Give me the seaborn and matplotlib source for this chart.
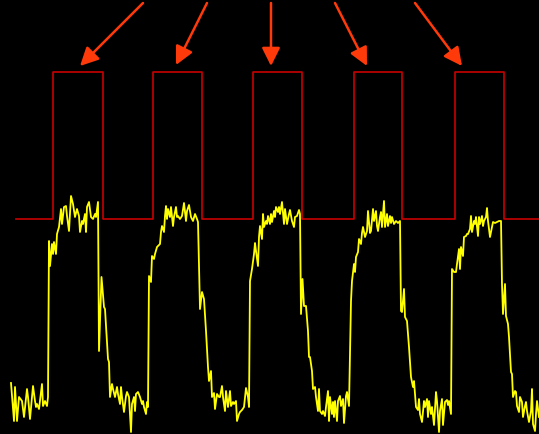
import matplotlib
matplotlib.use("Agg")
import matplotlib.pyplot as plt
import seaborn as sns
import pandas as pd

# ---- data: response trace as (time, level) pairs, level in screen units (down = larger) ----
response = [
    (11, 384), (14, 422), (15, 388), (17, 422), (19, 398), (22, 402), (24, 418), (27, 390),
    (28, 398), (30, 420), (33, 387), (35, 402), (36, 408), (37, 405), (39, 410), (42, 385),
    (43, 407), (45, 402), (47, 407), (48, 398),
    (49, 242), (50, 267), (52, 245), (53, 255), (54, 243), (56, 255), (57, 235), (59, 228),
    (61, 210), (62, 225), (64, 208), (66, 207), (67, 217), (69, 232), (71, 197), (73, 205),
    (75, 218), (77, 210), (79, 217), (80, 233), (82, 222), (83, 225), (85, 215), (86, 233),
    (87, 208), (89, 203), (91, 218), (93, 220), (95, 215), (96, 218), (98, 203),
    (99, 352), (101.5, 278), (104, 308), (105, 310), (108, 360), (109, 363),
    (110, 398), (112, 385), (113, 390), (115, 398), (117, 388), (118, 395), (120, 405),
    (121, 388), (122, 398), (124, 413), (126, 397), (127, 393), (129, 398), (131, 433),
    (132, 405), (134, 398), (135, 412), (136, 395), (138, 393), (140, 398), (142, 405),
    (143, 402), (144, 408), (146, 415), (147, 403), (148, 408),
    (149, 277), (151, 283), (152, 257), (154, 260), (155, 255), (157, 248), (158, 247),
    (160, 245), (161, 233), (162, 227), (164, 233), (165, 217), (166, 207), (167, 220),
    (168, 210), (170, 218), (171, 208), (173, 227), (174, 218), (176, 208), (177, 218),
    (178, 217), (180, 220), (182, 217), (184, 204), (186, 222), (187, 212), (189, 206),
    (191, 218), (193, 222), (195, 215), (197, 220), (198, 223),
    (200, 310), (202, 293), (204, 300), (206, 332), (208, 368), (209, 382), (211, 372),
    (212, 398), (214, 394), (215, 410), (217, 395), (219, 398), (220, 398), (222, 387),
    (223, 398), (225, 412), (226, 392), (228, 408), (230, 392), (231, 407), (233, 403),
    (234, 405), (236, 402), (237, 422), (239, 415), (240, 413), (242, 411), (244, 408),
    (246, 389), (248, 398), (249, 408),
    (250, 282), (252, 270), (254, 255), (255, 244), (256, 252), (258, 267), (259, 238),
    (260, 227), (262, 240), (263, 215), (264, 228), (266, 222), (267, 225), (268, 217),
    (270, 225), (271, 215), (272, 223), (274, 212), (275, 218), (276, 208), (278, 213),
    (279, 208), (280, 215), (282, 203), (284, 225), (285, 210), (287, 225), (289, 215),
    (290, 211), (292, 222), (294, 228), (295, 218), (297, 217), (299, 211), (300, 215),
    (301, 315), (302.5, 280), (304, 307), (306, 307), (308, 332), (309, 358), (310, 358),
    (312, 372), (313, 390), (315, 388), (316, 398), (318, 412), (319, 390), (320, 412),
    (322, 415), (323, 412), (325, 417), (326, 408), (328, 392), (329, 422), (330, 398),
    (332, 415), (333, 403), (334, 418), (335, 402), (337, 422), (338, 402), (340, 397),
    (341, 407), (343, 400), (344, 424), (346, 397), (347, 393), (349, 407),
    (351, 302), (352, 282), (354, 265), (355, 273), (356, 258), (358, 253), (359, 240),
    (361, 245), (362, 234), (363, 228), (365, 238), (367, 232), (368, 212), (370, 234),
    (371, 232), (373, 210), (374, 222), (376, 212), (377, 227), (378, 232), (380, 218),
    (381, 213), (382, 228), (384, 202), (385, 228), (387, 215), (388, 227), (390, 217),
    (391, 224), (392, 218), (394, 225), (396, 222), (398, 224), (400, 222),
    (401, 312), (402, 313), (404, 290), (405, 318), (407, 322), (409, 348), (411, 378),
    (413, 388), (414, 382), (416, 408), (418, 411), (419, 400), (420, 415), (422, 423),
    (424, 402), (425, 408), (427, 400), (428, 418), (429, 402), (431, 415), (432, 408),
    (434, 426), (436, 393), (437, 402), (439, 433), (440, 412), (442, 400), (443, 426),
    (445, 403), (447, 401), (448, 406), (449, 402), (451, 415),
    (452, 270), (454, 273), (456, 273), (457, 265), (459, 250), (460, 270), (461, 248),
    (463, 257), (464, 238), (466, 237), (467, 235), (468, 235), (470, 230), (471, 217),
    (472, 233), (474, 222), (475, 225), (476, 218), (478, 237), (479, 218), (480, 225),
    (482, 217), (483, 227), (484, 222), (486, 218), (487, 209), (488, 222), (490, 238),
    (492, 228), (493, 223), (495, 224), (497, 223), (499, 222), (501, 222),
    (502, 285), (503, 315), (505, 285), (506, 317), (508, 325), (509, 338), (511, 373),
    (512, 375), (513, 398), (515, 392), (516, 393), (517, 407), (519, 413), (520, 398),
    (522, 403), (523, 418), (525, 407), (526, 403), (527, 412), (529, 423), (531, 412),
    (532, 390), (533, 425), (535, 432), (536, 415), (537, 402), (539, 418),
]
resp_t = [p[0] for p in response]
resp_v = [p[1] for p in response]

# stimulus (square wave): switching times and levels
pulse_on = [53, 153, 253, 354, 455]
pulse_off = [102.5, 202, 302, 402, 504]
stim_start, stim_end = 16, 539
stim_low, stim_high = 220, 73

# annotation arrows: tail -> head
arrow_tail_t = [143, 207, 271, 335, 415]
arrow_head_t = [80, 176, 271, 367, 462]
arrow_tail_v = [4, 4, 4, 4, 4]
arrow_head_v = [67, 66, 67, 67, 67]

# ---- build square wave from switching times ----
st, sv = [stim_start], [stim_low]
for on, off in zip(pulse_on, pulse_off):
    st += [on, on, off, off]
    sv += [stim_low, stim_high, stim_high, stim_low]
st.append(stim_end)
sv.append(stim_low)
stim = pd.DataFrame({"t": st, "v": sv})
resp = pd.DataFrame({"t": resp_t, "v": resp_v})

fig = plt.figure(figsize=(5.39, 4.35), dpi=100, facecolor="black")
ax = fig.add_axes([0, 0, 1, 1])
ax.set_facecolor("black")

sns.lineplot(data=stim, x="t", y="v", sort=False, estimator=None, ax=ax,
             color="#C80000", linewidth=1.2)
sns.lineplot(data=resp, x="t", y="v", sort=False, estimator=None, ax=ax,
             color="#FFFF00", linewidth=1.3)

for tt, tv, ht, hv in zip(arrow_tail_t, arrow_tail_v, arrow_head_t, arrow_head_v):
    ax.annotate("", xy=(ht, hv), xytext=(tt, tv),
                arrowprops=dict(arrowstyle="-|>,head_length=1.1,head_width=0.55",
                                color="#FF3A0A", lw=1.8, shrinkA=0, shrinkB=0))

ax.set_xlim(0, 539)
ax.set_ylim(435, 0)
ax.axis("off")
fig.savefig("out.png", dpi=100, facecolor="black")
